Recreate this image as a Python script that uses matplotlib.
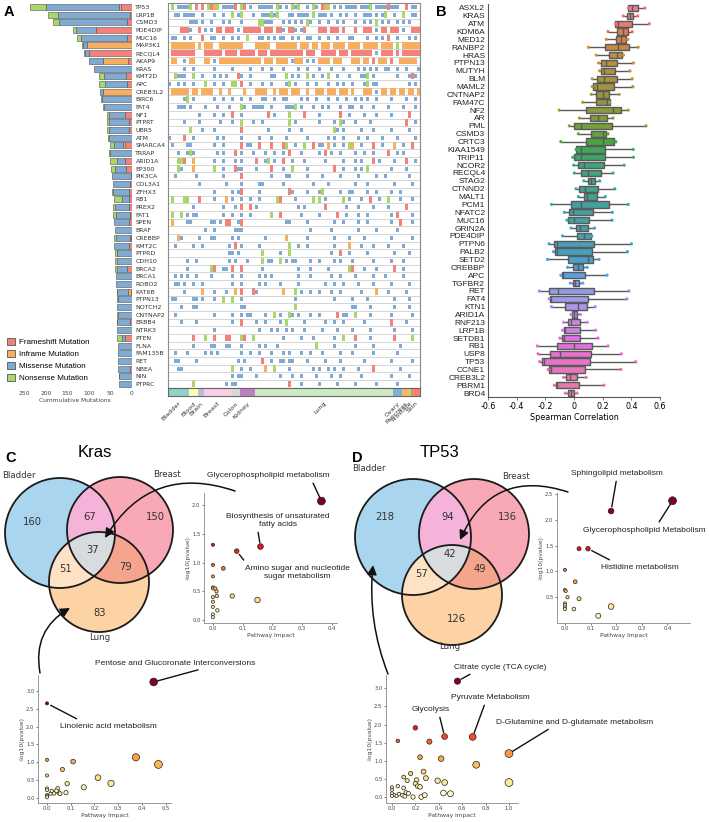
import numpy as np
import matplotlib
matplotlib.use('Agg')
import matplotlib.pyplot as plt
from matplotlib.patches import Circle, FancyArrowPatch, Patch
from matplotlib import colors as mcolors
import seaborn as sns

plt.rcParams['font.family'] = ['DejaVu Sans']
W, H = 709, 822
ARIAL = 'Liberation Sans'

# ---------------- Panel A data ----------------
genes_a = ['TP53', 'LRP1B', 'CSMD3', 'PDE4DIP', 'MUC16', 'MAP3K1', 'RECQL4', 'AKAP9', 'KRAS', 'KMT2D',
           'APC', 'CREB3L2', 'BIRC6', 'FAT4', 'NF1', 'PTPRT', 'UBR5', 'ATM', 'SMARCA4', 'TRRAP',
           'ARID1A', 'EP300', 'PIK3CA', 'COL3A1', 'ZFHX3', 'RB1', 'PREX2', 'FAT1', 'SPEN', 'BRAF',
           'CREBBP', 'KMT2C', 'PTPRD', 'CDH10', 'BRCA2', 'BRCA1', 'ROBO2', 'KAT6B', 'PTPN13', 'NOTCH2',
           'CNTNAP2', 'ERBB4', 'NTRK3', 'PTEN', 'FLNA', 'FAM135B', 'RET', 'NBEA', 'NIN', 'PTPRC']
frameshift = [26, 4, 12, 84, 12, 0, 100, 9, 0, 14, 12, 0, 0, 0, 16, 7, 8, 0, 16, 0,
              16, 14, 2, 4, 7, 7, 7, 4, 7, 0, 2, 7, 0, 0, 12, 0, 0, 2, 0, 0,
              0, 4, 0, 16, 0, 0, 0, 5, 0, 0]
inframe = [5, 0, 0, 0, 0, 105, 0, 58, 0, 0, 0, 68, 0, 0, 0, 0, 0, 0, 6, 0,
           0, 0, 0, 0, 0, 1, 0, 0, 1, 0, 3, 0, 0, 0, 0, 0, 0, 7, 0, 0,
           0, 0, 0, 0, 0, 0, 0, 0, 0, 0]
missense = [170, 168, 158, 47, 107, 9, 9, 33, 88, 51, 51, 6, 70, 65, 37, 47, 46, 53, 21, 51,
            19, 26, 44, 40, 37, 16, 33, 33, 33, 40, 33, 35, 35, 35, 23, 37, 37, 26, 33, 35,
            33, 30, 35, 7, 33, 32, 32, 28, 30, 30]
nonsense = [37, 23, 14, 7, 9, 3, 2, 0, 0, 12, 14, 0, 3, 3, 5, 5, 5, 2, 9, 2,
            16, 9, 0, 0, 2, 19, 5, 7, 0, 0, 5, 0, 5, 4, 5, 0, 0, 1, 3, 0,
            3, 1, 0, 11, 0, 0, 0, 0, 1, 0]

tissues = ['Bladder', 'Blood', 'Brain', 'Breast', 'Colon', 'Kidney', 'Lung',
           'Ovary', 'Pancreas', 'Prostate', 'Skin']
tissue_counts = [7, 3, 2, 9, 3, 5, 46, 3, 2, 1, 3]

# oncoprint rows: one char per sample column (. none, m missense, f frameshift, i inframe, n nonsense)
onco_rows = [
    ".n.mmmmn.f.f.nfin.mmmmf.nf.m..mmmmm.nm.m.nmn..m.nm.fin.m.m.mmmm.mmmn.mmmmfmmm..f.mm",
    ("..mm.mmmm..m" "...m..m..n.m" "n...m..mmmnm" "n...mm.mmmm." "n.mmm.m..m.m" "..m..mmm.m.m" "n..m..n..mm."),
    (".......mmm.m" "..m...m.m..." "m.....nnmmm." "..m.m.m.m.nm" "..m..m..m.m." "..m..m.m.n.m" ".m..m.m.m..."),
    ("....fffm..f." "m.m.ff.fff.m" ".ffffff.fff." "ffm.ffm.mf.." "..fff.fff.f." "..f..fff.m.f" "f.fff.m..fff"),
    (".mm..m.m...f" "..mm..m..m.m" "..n...mm.m.m" ".mm..m.m..mm" "..m..m..m..." "mm....m..m.m" ".f..m...m.m."),
    (".iiiiiiii.i." "iii..iiiiiii" "i....iiiii.." "iiiiiii.iii." "ii.iii.iiii." "iiii.iiiii.i" "iii.n.iiiiii"),
    (".ffffffff..." "ffffff.ffff." "fffff.fff.ff" "fffffffff.ff" "f..fffff.fff" ".fffffff.m.f" "fff.f.ffffff"),
    (".ii..m.ii..." "ii.m.iiiiiii" "iiiiiii.iii." "iiii.miii.m." "m.iiii.iii.." ".iii.ii.f.ii" "i.f..iiiiii."),
    (".....m..m..." "...m.....m.." "...m...m..m." "..m....m..m." "..m...m...m." "...m.m.m.m.." "mm..m..m...m"),
    ("..nmmm..n..m" "...m.m.m...f" "m..m......mm" "...n.m.m..n." "m..m.n..m..." "m...mmn.m..." "....m...mfm."),
    ("m..m.m..m..." "n..m..m..nn." "f..m...m..m." "...mn.m...m." ".m...m..m.m." ".m...mn.mm.." "........m.m."),
    (".iiiiii.ii.i" "iii..i..i..." ".i...iiii..i" ".iii.iii..i." ".iii.iii.iii" ".i...iii.m.i" "i.ii.ii.ii.i"),
    (".....mn.m..." "...m..m..m.." "m..m...mm..m" "..mm....m.m." ".m...m..m..m" "..m.m.m..m.." "..m....m..m."),
    ("...mmm.m...." "m...m...m..." "nm..mmmm..m." "...mmmn.m..." "m..m.m...m.." "mm..m...m..." ".m....m...m."),
    ("..........m." "...m..m..f.." "m........f.m" "....n....f.." "..m......f.." "m....m...m.." "..m.....f..."),
    (".....m....m." ".....m...m.." "n...m..m...." "....n.m....." "..m....m.nm." "..m....m...." ".......f..m."),
    (".......n...m" "...m........" "f........m.." "....m...m..." ".......nm.m." "....m...m..." "..m.....m..."),
    ("m....f..m..." "....m.m....." "m.....m...m." "...m......m." ".....m.m..m." "...m..m....m" "....m.....m."),
    (".m....mm...." "...m..m....." "f.mm..f...f." "..fn..m..n.." "f.mm.i.m..m." "ni..m...f..m" "...i..m..f.."),
    ("...m..mnm..." "....m.m...f." "m...m...m..m" "..m.f...m..." "..m.f.m..m.." "..m..m..m..." ".f..m.m....."),
    ("...nnf..i..." "...m..m...m." "m....f..mn.m" "..f..m...m.." "....m.....m." "..m.m...f.m." "...m...f..m."),
    ("...nm...i..." "...n..m...fm" "m....m....f." "..m..n....m." ".......f..m." "..m.m.n....." "..m....m...."),
    ("..m......m.." "......m....." "f.........m." "...mm.....m." "...m.....m.." "...m.....m.." "m.......m..."),
    ("..........m." ".......m...." "m.....mm...." "..m........." "m....m......" "..m...m....." "...m.....m.."),
    ("............" "...m.....m.m" "f.....m....." "....fm....m." "..mn.....m.." "mm....m..m.." "..m..m......"),
    (".n...nn...f." "...m...i.m.." "m..m..m....." "nf....m....." "n.n.m.....n." "m...m..f..m." ".n...m...m.."),
    ("........m..." "......m...m." "f..f.m......" ".......m.m.." "....f......m" "...m....m..." ".m.....f...."),
    (".n..n.m.mm.." "......m..m.." "m..m......n." ".f......m..." "..m.....f..m" "...m..m....." "..m.f....m.."),
    (".i....mm...." "..mm.m.ff..m" "f..........." "...mm.....m." ".......m..m." "...m..m....." "..m..f...m.."),
    ("............" "m..m......mm" "m..........." "...........m" "......m....." "...m.....m.." "....m......."),
    ("...im.....m." "..mm.....m.m" "........m..." "...i......m." ".......m...." "m....m......" "..m......m.."),
    ("..m.....m..m" "........m.f." "m.....m....." "....n..m..m." ".......m...." "i...m...m..." ".m....m....."),
    ("............" "........mm.m" ".......n...." ".m..n......." "......m..f.." "m.....m....." "...m....m..."),
    ("......m..m.." "........m.m." "..m....n.mm." ".n.m.mm....m" "..m....m.m.." ".m......m..." "..m...m....."),
    ("......m....." "..nf..mm.f.." "f......m...." ".......m...m" ".....m......" "nf...m...m.." "...f..m....."),
    ("..m.m.m..m.." "..m......m.." "m.....m.m.m." ".......m...m" "......m..m.." "..m.....m..." "m.....m....."),
    ("..mm.m..m..m" ".........m.." "m.....m.m..." ".m.....m...." "....m..m..m." "...m....m..." "..m.....m..."),
    (".....m.....i" "...m...m..i." "f...fm......" "..i...n.m..m" "..m...m..m.." "....m....i.." ".m.....m...."),
    (".mm.....mm.m" "...m..n..n.." "m..........." "......m....." ".......m...." ".m....m....." "...m....m..."),
    ("....m...mm.." "............" "mm.........." "......n....." "............" ".mm....m...." "...m....m..."),
    ("..m........." "...m.....m.." "m.mm....m..n" ".m..nm.m...m" "..m.....f.mm" "..n....m...." "..m......m.."),
    ("....m....m.." ".........m.." "f....m..m..." ".m.n.....m.." "....m..m..m." ".....m......" "..f....m...."),
    ("............" "...m........" "......m...m." "m..m.m...m.." "...m....m..." ".m.....m...." "...m.....m.."),
    ("........f..." "n..f...ff..." "nf..n......." "..m.....m..." "m......m..n." "..f....m...." "...f.....n.."),
    ("........m..." "..mm...mm..." "m.....m.m..." "m..........." ".n.....m...." "..m.....m..." ".....m......"),
    ("..m...m....." "m.m.m......." "m..m..m...m." "..m.m...m..m" "...m.....m.." ".m......m..." "....m......."),
    ("..mm.....m.." "...........m" ".m.....f..m." ".mm.mm....m." "....m....m.." ".....m......" "..m......m.."),
    ("...mm......." ".........n.." "m..m....i..n" "....m......." "m.m..m.m..m." "...m....f..." ".....m......"),
    ("............" ".........m.m" "m....m......" ".m...m..m..." ".m....m..m.." "....m......." "..m.....m..."),
    ("........n..." ".......m.mm." "............" "....f...m..." "..m.....m..." "..m......m.." "....m......."),
]

# ---------------- Panel B data ----------------
genes_b = ['ASXL2', 'KRAS', 'ATM', 'KDM6A', 'MED12', 'RANBP2', 'HRAS', 'PTPN13', 'MUTYH', 'BLM',
           'MAML2', 'CNTNAP2', 'FAM47C', 'NF2', 'AR', 'PML', 'CSMD3', 'CRTC3', 'KIAA1549', 'TRIP11',
           'NCOR2', 'RECQL4', 'STAG2', 'CTNND2', 'MALT1', 'PCM1', 'NFATC2', 'MUC16', 'GRIN2A', 'PDE4DIP',
           'PTPN6', 'PALB2', 'SETD2', 'CREBBP', 'APC', 'TGFBR2', 'RET', 'FAT4', 'KTN1', 'ARID1A',
           'RNF213', 'LRP1B', 'SETDB1', 'RB1', 'USP8', 'TP53', 'CCNE1', 'CREB3L2', 'PBRM1', 'BRD4']
b_lo = [0.378, 0.343, 0.289, 0.237, 0.225, 0.10, 0.155, 0.171, 0.178, 0.127,
        0.127, 0.12, 0.061, -0.103, 0.038, -0.033, 0.03, -0.092, 0.014, -0.009,
        -0.002, 0.002, 0.068, 0.014, 0.03, -0.157, -0.068, -0.049, -0.021, -0.08,
        -0.174, -0.143, -0.185, -0.045, -0.092, -0.026, -0.242, -0.174, -0.157, -0.021,
        -0.073, -0.08, -0.099, -0.256, -0.251, -0.239, -0.181, -0.073, -0.138, -0.061]
b_q1 = [0.378, 0.371, 0.289, 0.298, 0.291, 0.214, 0.244, 0.185, 0.185, 0.16,
        0.131, 0.155, 0.155, 0.085, 0.115, -0.002, 0.122, 0.087, 0.016, 0.002,
        0.03, 0.049, 0.096, 0.038, 0.068, -0.021, -0.033, -0.045, 0.014, 0.019,
        -0.143, -0.134, -0.045, -0.005, -0.087, -0.007, -0.174, -0.167, -0.061, -0.014,
        -0.04, -0.068, -0.087, -0.122, -0.167, -0.221, -0.174, -0.056, -0.127, -0.045]
b_med = [0.406, 0.39, 0.31, 0.343, 0.33, 0.307, 0.30, 0.22, 0.21, 0.21,
         0.16, 0.20, 0.23, 0.27, 0.17, 0.05, 0.20, 0.20, 0.05, 0.05,
         0.07, 0.10, 0.12, 0.08, 0.09, 0.05, -0.01, 0.0, 0.04, 0.07,
         -0.12, -0.12, 0.10, 0.03, -0.08, 0.01, -0.11, -0.16, 0.03, 0.0,
         -0.02, -0.06, -0.07, 0.0, -0.10, -0.21, -0.16, -0.03, -0.12, -0.02]
b_q3 = [0.444, 0.413, 0.408, 0.378, 0.366, 0.383, 0.338, 0.303, 0.289, 0.298,
        0.277, 0.244, 0.249, 0.326, 0.23, 0.265, 0.22, 0.279, 0.218, 0.218,
        0.209, 0.185, 0.148, 0.167, 0.16, 0.246, 0.136, 0.108, 0.096, 0.12,
        0.138, 0.124, 0.136, 0.061, 0.077, 0.038, 0.143, 0.101, 0.092, 0.019,
        0.04, 0.045, 0.045, 0.124, 0.12, 0.113, 0.08, 0.019, 0.038, -0.002]
b_hi = [0.495, 0.444, 0.526, 0.406, 0.375, 0.448, 0.345, 0.415, 0.39, 0.406,
        0.41, 0.315, 0.249, 0.378, 0.272, 0.502, 0.237, 0.291, 0.413, 0.415,
        0.35, 0.272, 0.178, 0.284, 0.218, 0.378, 0.268, 0.265, 0.143, 0.124,
        0.401, 0.373, 0.174, 0.092, 0.23, 0.061, 0.383, 0.369, 0.148, 0.045,
        0.092, 0.15, 0.167, 0.237, 0.331, 0.43, 0.326, 0.085, 0.209, 0.021]

# ---------------- Panel C / D data ----------------
kras_venn = {'Bladder': 160, 'Breast': 150, 'Lung': 83, 'Bladder&Breast': 67,
             'Bladder&Lung': 51, 'Breast&Lung': 79, 'All': 37}
tp53_venn = {'Bladder': 218, 'Breast': 136, 'Lung': 126, 'Bladder&Breast': 94,
             'Bladder&Lung': 57, 'Breast&Lung': 49, 'All': 42}

c1_impact = [0.365, 0.16, 0.08, 0.035, 0.065, 0.15, 0, 0, 0, 0, 0, 0, 0, 0, 0, 0, 0.012, 0.013, 0.015, 0.008]
c1_logp = [2.07, 1.28, 1.2, 0.9, 0.42, 0.35, 1.31, 0.96, 0.76, 0.57, 0.55, 0.4, 0.32, 0.23, 0.1, 0.05,
           0.5, 0.42, 0.17, 0.55]
c2_impact = [0.45, 0.0, 0, 0, 0, 0, 0, 0, 0, 0.11, 0.065, 0.085, 0.045, 0.03, 0.05, 0.055, 0.08, 0.015,
             0.02, 0.04, 0.155, 0.215, 0.27, 0.375, 0.47]
c2_logp = [3.25, 2.65, 1.07, 0.63, 0.27, 0.22, 0.08, 0.05, 0.02, 1.02, 0.8, 0.4, 0.27, 0.13, 0.15, 0.12,
           0.15, 0.12, 0.2, 0.2, 0.3, 0.57, 0.41, 1.14, 0.94]
d1_impact = [0.42, 0.18, 0.09, 0.055, 0.0, 0.04, 0.0, 0.003, 0.01, 0.055, 0.0, 0.0, 0.0, 0.0, 0.035, 0.13, 0.18]
d1_logp = [2.37, 2.17, 1.44, 1.44, 1.03, 0.8, 0.64, 0.62, 0.5, 0.47, 0.38, 0.35, 0.3, 0.27, 0.27, 0.14, 0.32]
d2_impact = [0.56, 0.69, 0.45, 1.0, 1.0, 0.72, 0.2, 0.05, 0.32, 0.24, 0.42, 0.27, 0.16, 0.1, 0.21, 0.29,
             0.39, 0.45, 0.2, 0.22, 0.24, 0.13, 0.1, 0.12, 0.14, 0.05, 0.0, 0.0, 0.0, 0.02, 0.04, 0.09,
             0.11, 0.18, 0.25, 0.28, 0.44, 0.5, 0.0, 0.06]
d2_logp = [3.2, 1.66, 1.67, 1.2, 0.4, 0.89, 1.91, 1.55, 1.53, 1.1, 1.06, 0.7, 0.65, 0.55, 0.47, 0.52,
           0.45, 0.4, 0.37, 0.3, 0.28, 0.45, 0.25, 0.12, 0.1, 0.3, 0.27, 0.2, 0.1, 0.05, 0.03, 0.05,
           0.02, 0.0, 0.0, 0.05, 0.11, 0.09, 0.03, 0.08]

mut_labels = ['Frameshift Mutation', 'Inframe Mutation', 'Missense Mutation', 'Nonsense Mutation']
mut_colors = {'f': '#f4827a', 'i': '#f8ae5f', 'm': '#7eaad4', 'n': '#a8d76b'}

fig = plt.figure(figsize=(W / 100, H / 100), dpi=100)


def px_axes(l, t, r, b):
    return fig.add_axes([l / W, 1 - b / H, (r - l) / W, (b - t) / H])


ng = len(genes_a)
y = np.arange(ng)
ylim_a = (ng - 0.48, -0.52)

# ---- A: cumulative bars ----
ax_bar = px_axes(18, 3, 132, 388)
left = np.zeros(ng)
for vals, key in zip([frameshift, inframe, missense, nonsense], 'fimn'):
    vals = np.array(vals, float)
    m = vals > 0
    ax_bar.barh(y[m], vals[m], left=left[m], height=0.78, color=mut_colors[key],
                edgecolor='#505050', linewidth=0.4)
    left += vals
ax_bar.set_xlim(265, 0)
ax_bar.set_ylim(*ylim_a)
ax_bar.yaxis.tick_right()
ax_bar.set_yticks(y)
ax_bar.set_yticklabels(genes_a, fontsize=4.5, color='#333')
ax_bar.tick_params(axis='y', length=0, pad=2.5)
ax_bar.set_xticks([250, 200, 150, 100, 50, 0])
ax_bar.tick_params(axis='x', labelsize=4.3, length=0, pad=2, labelcolor='#444')
ax_bar.set_xlabel('Cummulative Mutations', fontsize=4.3, labelpad=1.5, color='#444')
for s in ax_bar.spines.values():
    s.set_visible(False)

# ---- A: oncoprint ----
ncol = sum(tissue_counts)
ax_on = px_axes(168, 3, 420, 388)
ax_on.barh(y, ncol, left=0, height=1.0, color='white', edgecolor='#d2d2d2', linewidth=0.6)
heights = {'m': 0.52, 'f': 0.84, 'i': 0.84, 'n': 0.84}
for key in 'mifn':
    xs, ys = [], []
    for i, row in enumerate(onco_rows):
        row = row.ljust(ncol, '.')[:ncol]
        for j, ch in enumerate(row):
            if ch == key:
                xs.append(j + 0.5)
                ys.append(i)
    h = heights[key]
    ax_on.bar(xs, h, bottom=np.array(ys) - h / 2, width=0.72, color=mut_colors[key], linewidth=0)
ax_on.set_xlim(0, ncol)
ax_on.set_ylim(*ylim_a)
ax_on.set_xticks([])
ax_on.set_yticks([])
for s in ax_on.spines.values():
    s.set_color('#8a8a8a')
    s.set_linewidth(0.8)

# tissue strip
ax_t = px_axes(168, 388, 420, 396)
set3 = ['#8dd3c7', '#ffffb3', '#bebada', '#fccde5', '#d9d9d9', '#bc80bd', '#ccebc5',
        '#80b1d3', '#fdb462', '#b3de69', '#fb8072']
starts = np.concatenate([[0], np.cumsum(tissue_counts)[:-1]])
ax_t.barh(0, tissue_counts, left=starts, height=1, color=set3, linewidth=0)
ax_t.set_xlim(0, ncol)
ax_t.set_ylim(-0.5, 0.5)
ax_t.set_xticks([])
ax_t.set_yticks([])
for s in ax_t.spines.values():
    s.set_color('#666')
    s.set_linewidth(0.8)
for st, cnt, name in zip(starts, tissue_counts, tissues):
    ax_t.text(st + cnt / 2, -0.6, name, transform=ax_t.get_xaxis_transform(), rotation=45,
              ha='right', va='top', rotation_mode='anchor', fontsize=4.6, color='#333')

# ---- B: spearman boxplots ----
ax_b = px_axes(488, 4, 660, 397)
pal = sns.color_palette('husl', len(genes_b))
box_cols = [sns.desaturate(c, 0.8) for c in pal]
stats = [dict(whislo=b_lo[i], q1=b_q1[i], med=b_med[i], q3=b_q3[i], whishi=b_hi[i], fliers=[])
         for i in range(len(genes_b))]
pos = np.arange(len(genes_b))
bp = ax_b.bxp(stats, positions=pos, widths=0.8, orientation='horizontal', patch_artist=True,
              showfliers=False, showcaps=False,
              boxprops=dict(edgecolor='#5a5a5a', linewidth=1.0),
              whiskerprops=dict(color='#5a5a5a', linewidth=1.0),
              medianprops=dict(color='#5a5a5a', linewidth=1.0))
for patch, c in zip(bp['boxes'], box_cols):
    patch.set_facecolor(c)
ax_b.scatter(b_lo, pos, s=5, c=pal, zorder=4, linewidths=0)
ax_b.scatter(b_hi, pos, s=5, c=pal, zorder=4, linewidths=0)
ax_b.set_ylim(len(genes_b) - 0.5, -0.5)
ax_b.set_xlim(-0.6, 0.6)
ax_b.set_yticks(pos)
ax_b.set_yticklabels(genes_b, fontsize=6, family=ARIAL, color='#222')
ax_b.tick_params(axis='y', length=0, pad=2)
ax_b.set_xticks([-0.6, -0.4, -0.2, 0, 0.2, 0.4, 0.6])
ax_b.set_xticklabels(['-0.6', '-0.4', '-0.2', '0', '0.2', '0.4', '0.6'])
ax_b.tick_params(axis='x', labelsize=5.8, length=2, width=0.6, pad=1.5, color='#666')
ax_b.set_xlabel('Spearman Correlation', fontsize=5.8, labelpad=1.5)
ax_b.spines['top'].set_visible(False)
ax_b.spines['right'].set_visible(False)
for s in ['left', 'bottom']:
    ax_b.spines[s].set_color('#555')
    ax_b.spines[s].set_linewidth(0.8)


# ---- C / D: pathway bubble insets ----
def bubble(rect, impact, logp, xlim, ylim, xticks, yticks):
    ax = px_axes(*rect)
    x = np.array(impact, float)
    yv = np.array(logp, float)
    sizes = 5 + 27 * x / x.max()
    ax.scatter(x, yv, s=sizes, c=yv, cmap='YlOrRd', vmin=0, vmax=0.8 * yv.max(),
               edgecolors='#222', linewidths=0.5, zorder=3, clip_on=False)
    ax.set_xlim(*xlim)
    ax.set_ylim(*ylim)
    ax.set_xticks(xticks)
    ax.set_yticks(yticks)
    ax.tick_params(labelsize=3.8, length=1.5, width=0.5, pad=1, colors='#444')
    ax.set_xlabel('Pathway Impact', fontsize=4.3, labelpad=1, color='#444')
    ax.set_ylabel('-log10(pvalue)', fontsize=4.3, labelpad=1, color='#444')
    ax.spines['top'].set_visible(False)
    ax.spines['right'].set_visible(False)
    for s in ['left', 'bottom']:
        ax.spines[s].set_color('#888')
        ax.spines[s].set_linewidth(0.6)
    ax.patch.set_alpha(0)
    return ax


def label(ax, text, xy, txt_px, relpos):
    ax.annotate(text, xy=xy, xycoords='data', xytext=(txt_px[0], H - txt_px[1]),
                textcoords='figure pixels', ha='center', va='center', fontsize=6, family=ARIAL,
                color='#222', annotation_clip=False,
                arrowprops=dict(arrowstyle='-', color='#111', lw=1.0, relpos=relpos,
                                shrinkA=1.5, shrinkB=3))


ax_c1 = bubble((204, 493, 337, 623), c1_impact, c1_logp, (-0.03, 0.4175), (-0.05, 2.21),
               [0, 0.1, 0.2, 0.3, 0.4], [0, 0.5, 1.0, 1.5, 2.0])
label(ax_c1, 'Glycerophospholipid metabolism', (c1_impact[0], c1_logp[0]), (268, 475), (0.85, 0.0))
label(ax_c1, 'Biosynthesis of unsaturated\nfatty acids', (c1_impact[1], c1_logp[1]), (278, 520), (0.3, 0.0))
label(ax_c1, 'Amino sugar and nucleotide\nsugar metabolism', (c1_impact[2], c1_logp[2]), (297, 572), (0.03, 0.95))

ax_c2 = bubble((38, 675, 171, 803), c2_impact, c2_logp, (-0.038, 0.523), (-0.14, 3.445),
               [0, 0.1, 0.2, 0.3, 0.4, 0.5], [0, 0.5, 1.0, 1.5, 2.0, 2.5, 3.0])
label(ax_c2, 'Pentose and Glucoronate Interconversions', (c2_impact[0], c2_logp[0]), (175, 663), (0.72, 0.0))
label(ax_c2, 'Linolenic acid metabolism', (c2_impact[1], c2_logp[1]), (108, 726), (0.25, 1.0))

ax_d1 = bubble((557, 493, 690, 623), d1_impact, d1_logp, (-0.031, 0.488), (0.0, 2.52),
               [0, 0.1, 0.2, 0.3, 0.4], [0.5, 1.0, 1.5, 2.0, 2.5])
label(ax_d1, 'Sphingolipid metabolism', (d1_impact[1], d1_logp[1]), (617, 473), (0.5, 0.0))
label(ax_d1, 'Glycerophospholipid Metabolism', (d1_impact[0], d1_logp[0]), (644, 530), (0.6, 1.0))
label(ax_d1, 'Histidine metabolism', (d1_impact[2], d1_logp[2]), (640, 567), (0.2, 1.0))

ax_d2 = bubble((386, 675, 518, 803), d2_impact, d2_logp, (-0.051, 1.077), (-0.166, 3.37),
               [0, 0.2, 0.4, 0.6, 0.8, 1.0], [0, 0.5, 1.0, 1.5, 2.0, 2.5, 3.0])
label(ax_d2, 'Citrate cycle (TCA cycle)', (d2_impact[0], d2_logp[0]), (500, 667), (0.25, 0.0))
label(ax_d2, 'Pyruvate Metabolism', (d2_impact[1], d2_logp[1]), (490, 697), (0.45, 0.0))
label(ax_d2, 'Glycolysis', (d2_impact[2], d2_logp[2]), (431, 709), (0.7, 0.0))
label(ax_d2, 'D-Glutamine and D-glutamate metabolism', (d2_impact[3], d2_logp[3]), (575, 722), (0.37, 0.0))

# ---- overlay in pixel coordinates: venns, arrows, letters, legend ----
ov = fig.add_axes([0, 0, 1, 1])
ov.patch.set_alpha(0)

region_cols = {(1, 0, 0): '#a9d6ee', (0, 1, 0): '#f9a8b5', (0, 0, 1): '#fdd3a5',
               (1, 1, 0): '#f6b3d9', (1, 0, 1): '#fde2c6', (0, 1, 1): '#f5a48e',
               (1, 1, 1): '#d8dcdf'}
region_keys = {(1, 0, 0): 'Bladder', (0, 1, 0): 'Breast', (0, 0, 1): 'Lung',
               (1, 1, 0): 'Bladder&Breast', (1, 0, 1): 'Bladder&Lung', (0, 1, 1): 'Breast&Lung',
               (1, 1, 1): 'All'}


def venn(circles, counts, num_pos, name_pos):
    xs0 = min(c[0] - c[2] for c in circles) - 2
    xs1 = max(c[0] + c[2] for c in circles) + 2
    ys0 = min(c[1] - c[2] for c in circles) - 2
    ys1 = max(c[1] + c[2] for c in circles) + 2
    gx = np.arange(xs0, xs1, 0.5)
    gy = np.arange(ys0, ys1, 0.5)
    X, Y = np.meshgrid(gx, gy)
    inside = [((X - cx) ** 2 + (Y - cy) ** 2 <= r ** 2).astype(int) for cx, cy, r in circles]
    img = np.zeros(X.shape + (4,))
    for key, col in region_cols.items():
        m = (inside[0] == key[0]) & (inside[1] == key[1]) & (inside[2] == key[2])
        img[m] = mcolors.to_rgba(col)
    ov.imshow(img, extent=(xs0, xs1, ys1, ys0), origin='upper', interpolation='nearest', aspect='auto')
    for cx, cy, r in circles:
        ov.add_patch(Circle((cx, cy), r, fill=False, ec='#1a1a1a', lw=1.3))
    for key, (px, py) in num_pos.items():
        ov.text(px, py, str(counts[region_keys[key]]), ha='center', va='center', fontsize=7.2, color='#333')
    for name, (px, py) in zip(['Bladder', 'Breast', 'Lung'], name_pos):
        ov.text(px, py, name, ha='center', va='center', fontsize=6.2, color='#333')


venn([(60, 533, 55), (120, 530, 53), (99, 582, 50)], kras_venn,
     {(1, 0, 0): (32, 522), (1, 1, 0): (90, 517), (0, 1, 0): (155, 517), (1, 1, 1): (93, 550),
      (1, 0, 1): (66, 569), (0, 1, 1): (126, 567), (0, 0, 1): (100, 613)},
     [(19, 475), (167, 474), (100, 637)])
venn([(413, 537, 58), (474, 534, 55), (452, 595, 50)], tp53_venn,
     {(1, 0, 0): (385, 517), (1, 1, 0): (448, 517), (0, 1, 0): (507, 517), (1, 1, 1): (450, 554),
      (1, 0, 1): (422, 574), (0, 1, 1): (480, 569), (0, 0, 1): (456, 619)},
     [(369, 468), (516, 476), (450, 646)])

# curved arrows linking venn regions with the pathway plots
arrows = [((235, 491), (105, 538), 0.4), ((40, 673), (70, 608), -0.35),
          ((568, 492), (460, 540), 0.45), ((388, 674), (373, 565), -0.12)]
for tail, head, rad in arrows:
    ov.add_patch(FancyArrowPatch(tail, head, arrowstyle='-|>', mutation_scale=14, color='#111',
                                 lw=1.1, connectionstyle='arc3,rad=%s' % rad, shrinkA=0, shrinkB=0))

ov.text(95, 457, 'Kras', ha='center', va='baseline', fontsize=12, family=ARIAL)
ov.text(440, 457, 'TP53', ha='center', va='baseline', fontsize=12, family=ARIAL)
for letter, (px, py) in zip('ABCD', [(4, 5), (436, 5), (5, 451), (352, 451)]):
    ov.text(px, py, letter, ha='left', va='top', fontsize=10.5, fontweight='bold', family=ARIAL)

handles = [Patch(facecolor=mut_colors[k], edgecolor='#555', linewidth=0.6) for k in 'fimn']
ov.legend(handles, mut_labels, loc='upper left', bbox_to_anchor=(3 / W, 1 - 334 / H),
          bbox_transform=fig.transFigure, frameon=False, fontsize=5.8, handlelength=1.0,
          handleheight=1.0, handletextpad=0.45, labelspacing=0.45, borderpad=0,
          prop={'family': ARIAL, 'size': 5.8})

ov.set_xlim(0, W)
ov.set_ylim(H, 0)
ov.axis('off')

fig.savefig('out.png', dpi=100)
